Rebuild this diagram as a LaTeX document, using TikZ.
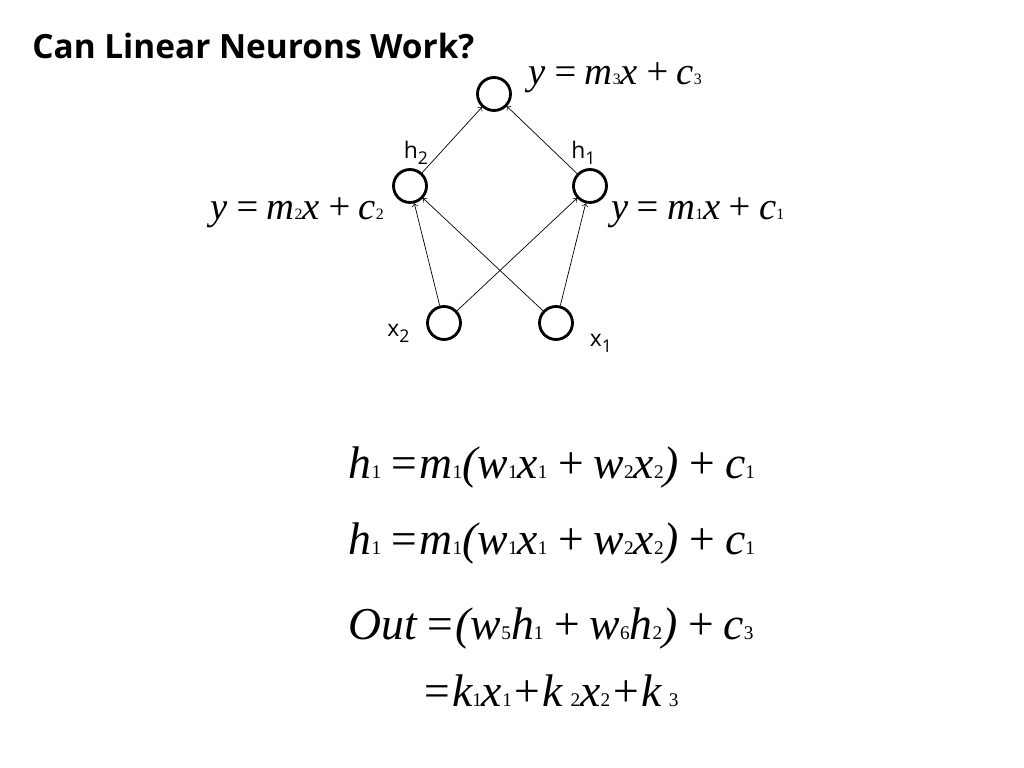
\documentclass[tikz,border=0pt]{standalone}
\usepackage{fontspec}
\setmainfont{Liberation Serif}
\newfontfamily\labfont{Open Sans}
\usetikzlibrary{positioning}
\newcommand{\smsub}[1]{{\fontsize{9}{9}\selectfont\upshape #1}}
\newcommand{\bigsub}[1]{{\fontsize{11}{11}\selectfont\upshape #1}}
\newcommand{\labsub}[1]{\raisebox{-0.5ex}{\fontsize{10}{10}\selectfont #1}}
\tikzset{
  neuron/.style={circle,draw,line width=1.6pt,minimum size=0.66cm,inner sep=0pt},
  lab/.style={font=\labfont\fontsize{13}{13}\selectfont},
  eq/.style={font=\fontsize{22}{22}\selectfont\itshape},
  bigeq/.style={font=\fontsize{26}{26}\selectfont\itshape,anchor=west},
  link/.style={->,thin}
}
\begin{document}
\begin{tikzpicture}
  \useasboundingbox (0,0) rectangle (20.48,15.36);
  % title
  \node[anchor=west,inner sep=0pt,font=\labfont\bfseries\fontsize{19}{19}\selectfont] (title) at (0.64,14.44) {Can Linear Neurons Work?};

  % neurons
  \node[neuron] (out) at (9.88,13.48) {};
  \node[neuron] (h2) at (8.2,11.64) {};
  \node[neuron] (h1) at (11.8,11.64) {};
  \node[neuron] (x2) at (8.88,8.9) {};
  \node[neuron] (x1) at (11.12,8.9) {};

  % labels
  \node[lab] (lh2) at (8.32,12.3) {h\labsub{2}};
  \node[lab] (lh1) at (11.67,12.3) {h\labsub{1}};
  \node[lab] (lx2) at (7.97,8.7) {x\labsub{2}};
  \node[lab] (lx1) at (12.02,8.5) {x\labsub{1}};

  % connections
  \draw[link] (x2) -- (h2);
  \draw[link] (x2) -- (h1);
  \draw[link] (x1) -- (h2);
  \draw[link] (x1) -- (h1);
  \draw[link] (h2) -- (out);
  \draw[link] (h1) -- (out);

  % neuron equations
  \node[eq,anchor=west] (e3) at (10.45,13.8) {y\,=\,m\smsub{3}x\,+\,c\smsub{3}};
  \node[eq,anchor=east] (e2) at (7.8,11.1) {y\,=\,m\smsub{2}x\,+\,c\smsub{2}};
  \node[eq,anchor=west] (e1) at (12.1,11.1) {y\,=\,m\smsub{1}x\,+\,c\smsub{1}};

  % derivation
  \node[bigeq] (d1) at (6.85,6.0) {h\bigsub{1}\,=m\bigsub{1}(w\bigsub{1}x\bigsub{1}\,+\,w\bigsub{2}x\bigsub{2})\,+\,c\bigsub{1}};
  \node[bigeq] (d2) at (6.85,4.48) {h\bigsub{1}\,=m\bigsub{1}(w\bigsub{1}x\bigsub{1}\,+\,w\bigsub{2}x\bigsub{2})\,+\,c\bigsub{1}};
  \node[bigeq] (d3) at (6.85,2.78) {Out\,=(w\bigsub{5}h\bigsub{1}\,+\,w\bigsub{6}h\bigsub{2})\,+\,c\bigsub{3}};
  \node[bigeq] (d4) at (8.3,1.55) {=k\bigsub{1}x\bigsub{1}+k\,\bigsub{2}x\bigsub{2}+k\,\bigsub{3}};
\end{tikzpicture}
\end{document}
